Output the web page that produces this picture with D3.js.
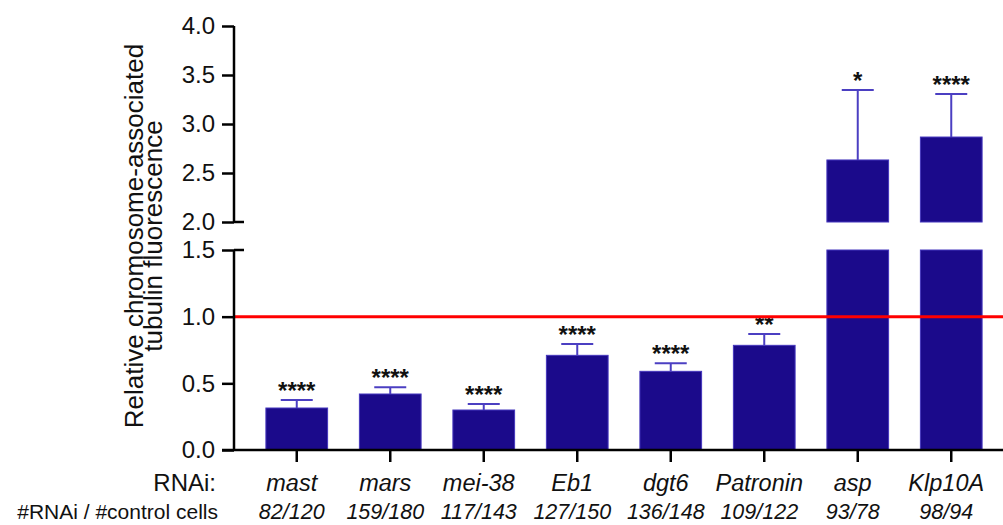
<!DOCTYPE html>
<html>
<head>
<meta charset="utf-8">
<script src="https://cdn.jsdelivr.net/npm/d3@7"></script>
<style>
  html, body { margin: 0; padding: 0; background: #fff; }
  svg { display: block; font-family: "Liberation Sans", Arial, sans-serif; }
</style>
</head>
<body>
<svg id="chart" width="1003" height="525"></svg>
<script>
// RNAi targets and their cell counts (#RNAi / #control)
const genes = ["mast", "mars", "mei-38", "Eb1", "dgt6", "Patronin", "asp", "Klp10A"];
const counts = ["82/120", "159/180", "117/143", "127/150", "136/148", "109/122", "93/78", "98/94"];
// mean relative fluorescence and upper error (mean + error)
const means = [0.315, 0.42, 0.30, 0.71, 0.59, 0.785, 2.633, 2.867];
const errTops = [0.375, 0.47, 0.345, 0.795, 0.65, 0.87, 3.347, 3.306];
const stars = ["****", "****", "****", "****", "****", "**", "*", "****"];
// y-axis ticks on both segments of the broken axis
const lowerTicks = [0.0, 0.5, 1.0, 1.5];
const upperTicks = [2.0, 2.5, 3.0, 3.5, 4.0];
const refLine = 1.0;

const svg = d3.select("#chart");
const W = 1003;
const axisX = 234;

const x = d3.scaleBand().domain(genes).range([250, 998]).paddingInner(0.34).paddingOuter(0.17);
const yLow = d3.scaleLinear().domain([0, 1.5]).range([450, 250]);
const yUp = d3.scaleLinear().domain([2, 4]).range([222, 26]);
const yOf = v => v > 1.75 ? yUp(v) : yLow(v);

const barFill = "#1b0a8b";
const barEdge = "#4536bd";
const errColor = "#4b3fc2";

const data = genes.map((g, i) => ({ g, m: means[i], e: errTops[i], s: stars[i], c: counts[i] }));

// bars: lower segment (clipped at 1.5) and upper segment (from 2.0)
svg.append("g").selectAll("rect").data(data).join("rect")
  .attr("x", d => x(d.g)).attr("width", x.bandwidth())
  .attr("y", d => yLow(Math.min(d.m, 1.5)))
  .attr("height", d => yLow(0) - yLow(Math.min(d.m, 1.5)))
  .attr("fill", barFill).attr("stroke", barEdge).attr("stroke-width", 1);

svg.append("g").selectAll("rect").data(data.filter(d => d.m > 2)).join("rect")
  .attr("x", d => x(d.g)).attr("width", x.bandwidth())
  .attr("y", d => yUp(d.m))
  .attr("height", d => yUp(2) - yUp(d.m))
  .attr("fill", barFill).attr("stroke", barEdge).attr("stroke-width", 1);

// upper error whiskers with caps
const err = svg.append("g").attr("stroke", errColor).attr("stroke-width", 2);
data.forEach(d => {
  const cx = x(d.g) + x.bandwidth() / 2;
  err.append("line").attr("x1", cx).attr("x2", cx).attr("y1", yOf(d.m)).attr("y2", yOf(d.e));
  err.append("line").attr("x1", cx - 16).attr("x2", cx + 16).attr("y1", yOf(d.e)).attr("y2", yOf(d.e));
});

// significance stars
svg.append("g").selectAll("text").data(data).join("text")
  .attr("x", d => x(d.g) + x.bandwidth() / 2)
  .attr("y", d => yOf(d.e) - 1)
  .attr("text-anchor", "middle")
  .attr("font-size", 24).attr("font-weight", "bold").attr("fill", "#111")
  .text(d => d.s);

// reference line at 1.0
svg.append("line")
  .attr("x1", axisX).attr("x2", W).attr("y1", yLow(refLine)).attr("y2", yLow(refLine))
  .attr("stroke", "#ff0000").attr("stroke-width", 3);

// axes
const axStyle = g => {
  g.selectAll("path, line").attr("stroke", "#000").attr("stroke-width", 2.5);
  g.selectAll("text").attr("font-size", 24).attr("fill", "#111").attr("font-family", "'Liberation Sans', Arial, sans-serif");
};

const gLow = svg.append("g").attr("transform", `translate(${axisX},0)`)
  .call(d3.axisLeft(yLow).tickValues(lowerTicks).tickFormat(d3.format(".1f")).tickSize(12).tickSizeOuter(0).tickPadding(7))
  .call(axStyle);
gLow.select(".domain").remove();
gLow.append("line").attr("x1", 0).attr("x2", 0).attr("y1", yLow(1.5)).attr("y2", yLow(0)).attr("stroke", "#000").attr("stroke-width", 2.5);
gLow.append("line").attr("x1", 0).attr("x2", 10).attr("y1", yLow(1.5)).attr("y2", yLow(1.5)).attr("stroke", "#000").attr("stroke-width", 2.5);

const gUp = svg.append("g").attr("transform", `translate(${axisX},0)`)
  .call(d3.axisLeft(yUp).tickValues(upperTicks).tickFormat(d3.format(".1f")).tickSize(12).tickSizeOuter(0).tickPadding(7))
  .call(axStyle);
gUp.select(".domain").remove();
gUp.append("line").attr("x1", 0).attr("x2", 0).attr("y1", yUp(4)).attr("y2", yUp(2)).attr("stroke", "#000").attr("stroke-width", 2.5);
gUp.append("line").attr("x1", 0).attr("x2", 10).attr("y1", yUp(2)).attr("y2", yUp(2)).attr("stroke", "#000").attr("stroke-width", 2.5);

const gx = svg.append("g").attr("transform", `translate(0,${yLow(0)})`)
  .call(d3.axisBottom(x).tickSize(12).tickSizeOuter(0).tickFormat(""));
gx.select(".domain").remove();
gx.selectAll("line").attr("stroke", "#000").attr("stroke-width", 2.5);
gx.append("line").attr("x1", axisX - 12).attr("x2", W).attr("y1", 0).attr("y2", 0).attr("stroke", "#000").attr("stroke-width", 2.5);

// y-axis title, two lines
const yt = svg.append("text")
  .attr("transform", `translate(143,236) rotate(-90)`)
  .attr("text-anchor", "middle").attr("font-size", 26).attr("fill", "#111");
yt.append("tspan").attr("x", 0).attr("dy", 0).text("Relative chromosome-associated");
yt.append("tspan").attr("x", 0).attr("dy", 19).text("tubulin fluorescence");

// row labels under the axis
svg.append("text").attr("x", 216).attr("y", 491).attr("text-anchor", "end")
  .attr("font-size", 24).attr("fill", "#111").text("RNAi:");
svg.append("text").attr("x", 218).attr("y", 519).attr("text-anchor", "end")
  .attr("font-size", 21).attr("fill", "#111").text("#RNAi / #control cells");

svg.append("g").selectAll("text").data(data).join("text")
  .attr("x", d => x(d.g) + x.bandwidth() / 2 - 5).attr("y", 491)
  .attr("text-anchor", "middle").attr("font-size", 23.5).attr("font-style", "italic").attr("fill", "#111")
  .text(d => d.g);
svg.append("g").selectAll("text").data(data).join("text")
  .attr("x", d => x(d.g) + x.bandwidth() / 2 - 5).attr("y", 519)
  .attr("text-anchor", "middle").attr("font-size", 21.5).attr("font-style", "italic").attr("fill", "#111")
  .text(d => d.c);
</script>
</body>
</html>
